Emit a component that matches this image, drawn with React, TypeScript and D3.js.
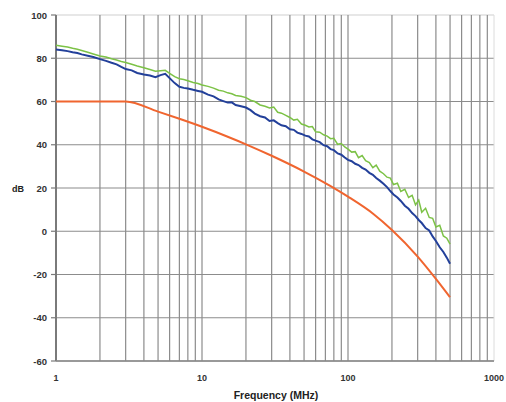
import React from "react";
import * as d3 from "d3";

const freq = [1, 1.1, 1.2, 1.3, 1.4, 1.5, 1.65, 1.8, 2, 2.2, 2.4, 2.6, 2.8, 3, 3.3, 3.6, 4, 4.4, 4.8, 5.2, 5.6, 6, 6.5, 7, 7.5, 8, 8.7, 9.4, 10, 11, 12, 13, 14, 15, 16, 17, 18.5, 20, 21.5, 23, 25, 27, 29, 31, 33, 35, 37.5, 40, 42.5, 45, 48, 51, 54, 57, 60, 64, 68, 72, 76, 80, 85, 90, 95, 100, 106, 112, 118, 125, 132, 140, 148, 156, 165, 175, 185, 195, 205, 218, 230, 245, 260, 275, 290, 305, 320, 340, 360, 380, 400, 425, 450, 475, 500];

const blueDb = [84, 83.7, 83.3, 82.8, 82.4, 81.8, 81.2, 80.6, 79.6, 78.8, 77.9, 77.2, 76.0, 75.0, 74.4, 73.2, 72.5, 72.0, 71.2, 72.2, 72.8, 70.8, 68.5, 66.8, 66.3, 66.0, 65.4, 64.9, 64.5, 63.2, 62.4, 61.0, 60.2, 59.5, 59.6, 58.4, 57.8, 57.2, 56.0, 54.4, 53.2, 52.6, 51.0, 51.3, 50.0, 49.0, 48.6, 47.2, 46.9, 45.6, 45.0, 44.2, 43.8, 42.5, 41.9, 41.2, 39.8, 39.3, 38.0, 37.5, 36.0, 35.4, 34.1, 33.0, 32.4, 31.2, 30.6, 29.3, 28.5, 27.0, 26.1, 24.6, 23.4, 22.0, 20.4, 18.6, 17.0, 15.6, 14.0, 11.8, 10.4, 8.4, 7.0, 5.2, 3.8, 1.5, 0.4, -2.4, -4.5, -7.4, -9.6, -12.2, -15];

const greenDb = [86, 85.6, 85.2, 84.6, 84.2, 83.6, 82.8, 82.0, 81.0, 80.6, 79.8, 79.2, 78.5, 78.0, 77.2, 76.4, 75.6, 74.8, 74.0, 74.2, 74.4, 73.0, 71.5, 70.5, 70.2, 69.6, 68.8, 68.3, 67.6, 67.0, 66.2, 65.2, 64.8, 64.0, 63.6, 62.8, 62.4, 61.8, 60.6, 60.0, 58.4, 57.8, 57.0, 57.4, 55.0, 54.6, 53.6, 52.6, 51.4, 51.8, 49.6, 49.0, 48.2, 48.4, 46.0, 45.8, 44.6, 44.0, 42.8, 43.0, 40.2, 40.6, 39.0, 38.0, 36.6, 36.8, 34.0, 35.0, 32.6, 31.8, 29.4, 30.6, 27.8, 26.6, 25.0, 24.6, 21.6, 22.2, 18.4, 19.4, 15.6, 16.6, 12.2, 14.4, 8.8, 10.6, 6.4, 6.0, 2.0, 2.8, -2.2, -3.2, -6.0];

const limitFreq = [1, 3, 5, 7, 10, 15, 20, 30, 50, 75, 100, 150, 200, 300, 400, 500];
const limitDb = [60, 60, 55.3, 52.0, 48.3, 43.7, 40.2, 34.9, 27.6, 21.1, 16.0, 7.9, 0.6, -11.7, -22.0, -30.5];

const yTicks = [100, 80, 60, 40, 20, 0, -20, -40, -60];
const xTickLabels = [1, 10, 100, 1000];

const W = 506;
const H = 402;
const left = 56;
const right = 494;
const top = 15;
const bottom = 361;

export default function App() {
  const x = d3.scaleLog().domain([1, 1000]).range([left, right]);
  const y = d3.scaleLinear().domain([-60, 100]).range([bottom, top]);

  const minor: number[] = [];
  [1, 10, 100].forEach((d) => {
    for (let k = 2; k <= 9; k++) minor.push(d * k);
  });
  minor.push(10, 100);

  const line = d3
    .line<[number, number]>()
    .x((d) => x(d[0]))
    .y((d) => y(d[1]));
  const smooth = d3
    .line<[number, number]>()
    .x((d) => x(d[0]))
    .y((d) => y(d[1]))
    .curve(d3.curveMonotoneX);

  const blue = freq.map((f, i) => [f, blueDb[i]] as [number, number]);
  const green = freq.map((f, i) => [f, greenDb[i]] as [number, number]);
  const limit = limitFreq.map((f, i) => [f, limitDb[i]] as [number, number]);

  const font = "Liberation Sans, Arial, sans-serif";

  return (
    <svg
      width={W}
      height={H}
      style={{ position: "absolute", left: 0, top: 0, background: "#fff" }}
    >
      {yTicks.map((t) => (
        <line
          key={"h" + t}
          x1={left}
          x2={right}
          y1={y(t)}
          y2={y(t)}
          stroke={t === 100 ? "#d0d0d0" : "#8c8c8c"}
          strokeWidth={1.2}
        />
      ))}
      {minor.map((m) => (
        <line
          key={"v" + m}
          x1={x(m)}
          x2={x(m)}
          y1={top}
          y2={bottom}
          stroke="#8c8c8c"
          strokeWidth={1.2}
        />
      ))}
      <line x1={right} x2={right} y1={top} y2={bottom} stroke="#dcdcdc" strokeWidth={1} />
      <line x1={left} x2={left} y1={top} y2={bottom} stroke="#7a7a7a" strokeWidth={2} />
      <line x1={left} x2={right} y1={bottom} y2={bottom} stroke="#8a8a8a" strokeWidth={1.5} />
      {yTicks.map((t) => (
        <g key={"yt" + t}>
          <line x1={left - 5} x2={left} y1={y(t)} y2={y(t)} stroke="#7a7a7a" strokeWidth={1.2} />
          <text
            x={47}
            y={y(t) + 3.5}
            textAnchor="end"
            fontFamily={font}
            fontSize={9.5}
            fontWeight="bold"
            fill="#333"
          >
            {t}
          </text>
        </g>
      ))}
      {xTickLabels.map((t) => (
        <text
          key={"xt" + t}
          x={x(t)}
          y={381}
          textAnchor="middle"
          fontFamily={font}
          fontSize={9}
          fontWeight="bold"
          fill="#333"
        >
          {t}
        </text>
      ))}
      <text x={18} y={y(20) + 3.5} textAnchor="middle" fontFamily={font} fontSize={9} fontWeight="bold" fill="#222">
        dB
      </text>
      <text x={276} y={399} textAnchor="middle" fontFamily={font} fontSize={10.5} fontWeight="bold" fill="#222">
        Frequency (MHz)
      </text>
      <path d={smooth(limit) || ""} fill="none" stroke="#f0652f" strokeWidth={2} />
      <path d={line(green) || ""} fill="none" stroke="#7cc246" strokeWidth={1.5} />
      <path d={line(blue) || ""} fill="none" stroke="#23409a" strokeWidth={2} />
    </svg>
  );
}
